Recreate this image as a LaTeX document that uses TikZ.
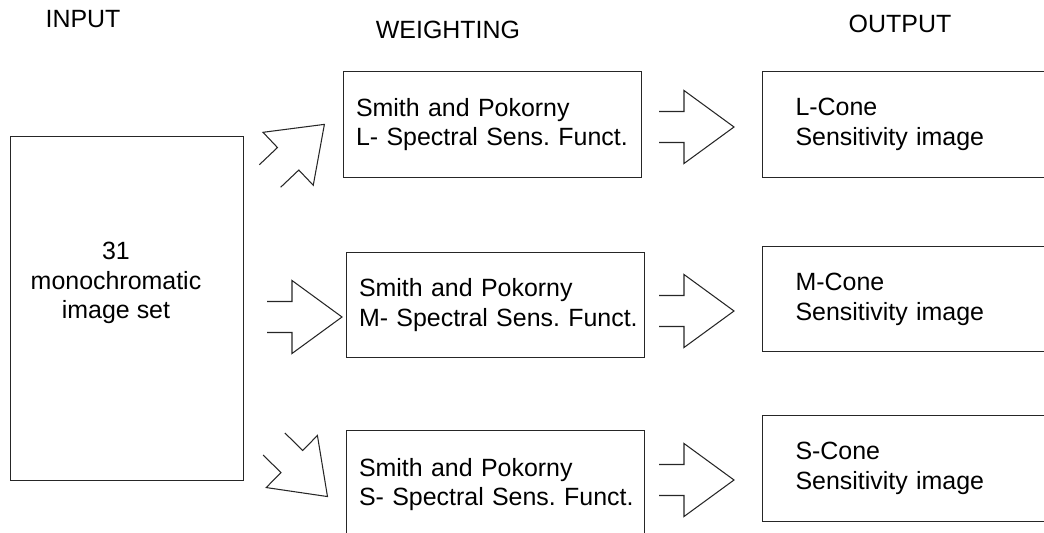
\documentclass[tikz,border=0pt]{standalone}
\usepackage{fontspec}
\setmainfont{Liberation Sans}
\usepackage{tikz}
\usetikzlibrary{positioning}
\frenchspacing
\newcommand\boxfont{\fontsize{14.2}{17}\selectfont}
\newcommand\wgtfont{\fontsize{14.2}{17}\selectfont}
\tikzset{hdr/.style={draw=none, inner sep=0pt, anchor=base, font=\boxfont}}
\tikzset{inbox/.style={draw=black!85, line width=0.6pt, anchor=north west, minimum width=4.66cm, minimum height=6.88cm}}
\tikzset{intxt/.style={draw=none, inner sep=0pt, align=center, font=\boxfont}}
\tikzset{wgtbox/.style={draw=black!85, line width=0.6pt, anchor=north west, minimum height=2.12cm, inner xsep=0.25cm, text width=5.46cm, align=left, font=\wgtfont}}
\tikzset{outbox/.style={draw=black!85, line width=0.6pt, anchor=north west, minimum height=2.12cm, inner xsep=0.66cm, text width=4.64cm, align=left, font=\boxfont}}
\tikzset{arrowline/.style={draw=black!85, line width=0.6pt, line join=miter}}
\tikzset{blkarrow/.pic={
  \draw[arrowline] (0,-15.5) -- (25,-15.5) -- (25,-36.5) -- (75,0)
    -- (25,36.5) -- (25,15.5) -- (0,15.5);
}}

\begin{document}
\begin{tikzpicture}[x=0.02cm, y=-0.02cm]
\clip (0,0) rectangle (1044,533);

\node[hdr](hin) at (83,28) {INPUT};
\node[hdr](hwg) at (448,39) {WEIGHTING};
\node[hdr](hout) at (900,33) {OUTPUT};

\node[inbox](input) at (10,136) {};
\node[intxt](inlbl) at (116,283)
{31\\monochromatic\\image set};

\node[wgtbox](wL) at (343,71)
{Smith and Pokorny\\\mbox{L- Spectral Sens. Funct.}};

\node[wgtbox, minimum height=2.1cm](wM) at (346,252)
{Smith and Pokorny\\\mbox{M- Spectral Sens. Funct.}};

\node[wgtbox, minimum height=2.16cm](wS) at (346,430)
{Smith and Pokorny\\\mbox{S- Spectral Sens. Funct.}};

\node[outbox](oL) at (762,71)
{L-Cone\\Sensitivity image};

\node[outbox, minimum height=2.1cm](oM) at (762,246)
{M-Cone\\Sensitivity image};

\node[outbox](oS) at (762,415)
{S-Cone\\Sensitivity image};

% input -> weighting
\pic[rotate=43.5] at (270,176) {blkarrow};
\pic at (267,317) {blkarrow};
\pic[rotate=-44.5] at (274,444) {blkarrow};

% weighting -> output
\pic at (659,127) {blkarrow};
\pic at (659,311) {blkarrow};
\pic at (659,480) {blkarrow};
\end{tikzpicture}
\end{document}
